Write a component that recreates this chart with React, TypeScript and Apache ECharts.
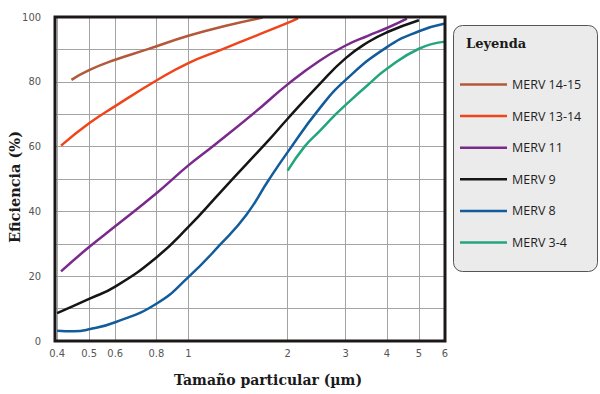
import React, { useEffect, useRef } from 'react';
import * as echarts from 'echarts';

// ---- data ----
const xTicks = [0.4, 0.5, 0.6, 0.8, 1, 2, 3, 4, 5, 6];
const yTicks = [0, 20, 40, 60, 80, 100];
const seriesNames = ['MERV 14-15', 'MERV 13-14', 'MERV 11', 'MERV 9', 'MERV 8', 'MERV 3-4'];
const seriesColors = ['#b4583a', '#f0441a', '#7a2a8c', '#151515', '#135c9c', '#23a57e'];

const merv1415: [number, number][] = [
  [0.442, 80.6], [0.5, 83.6], [0.6, 86.8], [0.75, 90], [1, 94.2], [1.3, 97.3], [1.68, 99.8],
];
const merv1314: [number, number][] = [
  [0.411, 60.3], [0.5, 67.2], [0.6, 72.5], [0.8, 80.4], [1, 85.8], [1.25, 89.8], [1.6, 94.2], [2, 98.2], [2.15, 99.6],
];
const merv11: [number, number][] = [
  [0.411, 21.5], [0.5, 29], [0.6, 35.4], [0.8, 45.6], [1, 54.2], [1.2, 60.5], [1.6, 70.8], [2, 79.2],
  [2.5, 86.5], [3, 91.2], [3.5, 94.2], [4, 96.6], [4.6, 99.5],
];
const merv9: [number, number][] = [
  [0.4, 8.6], [0.5, 13], [0.6, 16.8], [0.8, 25.8], [1, 35.2], [1.25, 45.9], [1.5, 54.6], [1.75, 61.9],
  [2, 68.6], [2.5, 79.3], [3, 87.3], [3.5, 92.2], [4, 95.3], [5, 99],
];
const merv8: [number, number][] = [
  [0.4, 3.2], [0.45, 3.0], [0.5, 3.6], [0.6, 5.8], [0.8, 11.5], [1, 19.7], [1.25, 29.8], [1.5, 39],
  [1.75, 49.6], [2, 58.3], [2.5, 71.8], [3, 80.6], [4, 90.7], [5, 95.6], [6, 98],
];
const merv34: [number, number][] = [
  [2, 52.6], [2.25, 60], [2.5, 64.8], [2.8, 70], [3, 72.9], [3.5, 79], [4, 84], [5, 90.2], [6, 92.4],
];
const seriesData = [merv1415, merv1314, merv11, merv9, merv8, merv34];

const L = (v: number) => Math.log10(v);

const GRID = { left: 55, top: 17, width: 390, height: 324 };

export default function App() {
  const ref = useRef<HTMLDivElement>(null);
  useEffect(() => {
    const chart = echarts.init(ref.current!, null, { renderer: 'svg' });
    const labelFont = "'Liberation Sans Narrow', 'DejaVu Sans Condensed', 'Arial Narrow', sans-serif";
    chart.setOption({
      animation: false,
      backgroundColor: '#ffffff',
      grid: {
        left: GRID.left,
        top: GRID.top,
        width: GRID.width,
        height: GRID.height,
        containLabel: false,
        outerBoundsMode: 'none',
      },
      xAxis: {
        type: 'value',
        min: L(0.4) - 0.0065,
        max: L(6),
        axisLine: { show: false },
        axisTick: { show: false, customValues: xTicks.map(L) },
        axisLabel: {
          customValues: xTicks.map(L),
          formatter: (v: number) => String(Number(Math.pow(10, v).toFixed(2))),
          color: '#555',
          fontSize: 11,
          fontFamily: labelFont,
          margin: 7,
        },
        splitLine: { show: true, lineStyle: { color: '#a3a3a3', width: 1 } },
      },
      yAxis: {
        type: 'value',
        min: 0,
        max: 100,
        interval: 10,
        axisLine: { show: false },
        axisTick: { show: false },
        axisLabel: {
          customValues: yTicks,
          color: '#555',
          fontSize: 11,
          fontFamily: labelFont,
          margin: 14,
        },
        splitLine: { show: true, lineStyle: { color: '#a3a3a3', width: 1 } },
      },
      legend: {
        orient: 'vertical',
        left: 460,
        top: 78,
        icon: 'rect',
        itemWidth: 47,
        itemHeight: 2.5,
        itemGap: 18.6,
        padding: 0,
        textStyle: { fontSize: 12.5, fontFamily: "'Open Sans', sans-serif", color: '#1e1e1e' },
        data: seriesNames,
      },
      graphic: [
        {
          type: 'rect',
          z: 0,
          shape: { x: 453.5, y: 25.5, width: 144, height: 246, r: 9 },
          style: { fill: '#ebebeb', stroke: '#555', lineWidth: 1 },
        },
        {
          type: 'text',
          z: 5,
          x: 466,
          y: 43,
          style: {
            text: 'Leyenda',
            font: "bold 13px 'DejaVu Serif', serif",
            fill: '#1a1a1a',
            align: 'left',
            verticalAlign: 'middle',
          },
        },
        {
          type: 'rect',
          z: 50,
          silent: true,
          shape: { x: GRID.left, y: GRID.top, width: GRID.width, height: GRID.height },
          style: { fill: 'none', stroke: '#1c1818', lineWidth: 3 },
        },
        {
          type: 'text',
          z: 5,
          x: 14,
          y: 187,
          rotation: Math.PI / 2,
          style: {
            text: 'Eficiencia (%)',
            font: "bold 14.5px 'DejaVu Serif', serif",
            fill: '#1a1a1a',
            align: 'center',
            verticalAlign: 'middle',
          },
        },
        {
          type: 'text',
          z: 5,
          x: 268,
          y: 380,
          style: {
            text: 'Tamaño particular (µm)',
            font: "bold 14px 'DejaVu Serif', serif",
            fill: '#1a1a1a',
            align: 'center',
            verticalAlign: 'middle',
          },
        },
      ],
      series: seriesNames.map((name, i) => ({
        name,
        type: 'line',
        data: seriesData[i].map(([x, y]) => [L(x), y]),
        symbol: 'none',
        smooth: 0.5,
        color: seriesColors[i],
        lineStyle: { color: seriesColors[i], width: 2.5 },
        z: 3,
      })),
    });
    return () => chart.dispose();
  }, []);
  return (
    <div
      ref={ref}
      style={{ position: 'fixed', left: 0, top: 0, width: 600, height: 394 }}
    />
  );
}
